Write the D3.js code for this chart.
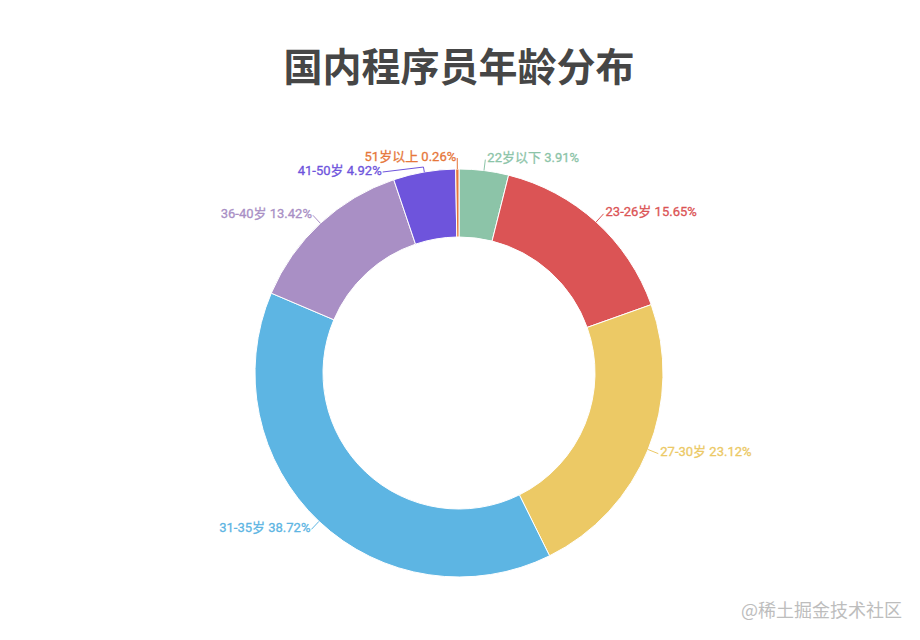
<!DOCTYPE html>
<html>
<head>
<meta charset="utf-8">
<script src="https://cdn.jsdelivr.net/npm/d3@7"></script>
<style>
  html, body { margin: 0; padding: 0; background: #fff; }
  svg text { font-family: Roboto, "Noto Sans CJK SC", "Noto Sans", sans-serif; }
</style>
</head>
<body>
<div id="chart-container"></div>
<script>
// age groups, clockwise from 12 o'clock
const categories = ["22岁以下", "23-26岁", "27-30岁", "31-35岁", "36-40岁", "41-50岁", "51岁以上"];
const percents = [3.91, 15.65, 23.12, 38.72, 13.42, 4.92, 0.26];
const colors = ["#8cc4a8", "#db5455", "#ecc965", "#5db5e3", "#a98fc5", "#6e54dc", "#e6773a"];

const width = 920;
const height = 640;
const cx = 459, cy = 373;
const outerR = 204, innerR = 136;
const lineR = 215;   // where label lines end
const minGap = 14;   // min vertical gap between labels on one side

const data = categories.map((name, i) => ({ name, value: percents[i], color: colors[i] }));

const svg = d3.select("#chart-container")
    .append("svg")
        .attr("width", width)
        .attr("height", height);

// title
svg.append("text")
    .attr("x", cx)
    .attr("y", 81)
    .attr("text-anchor", "middle")
    .attr("font-size", 39)
    .attr("font-weight", "bold")
    .attr("fill", "#464646")
    .style("font-family", "'Noto Sans CJK SC', sans-serif")
    .text("国内程序员年龄分布");

const pie = d3.pie()
    .sort(null)
    .value(d => d.value)
    .startAngle(0)
    .endAngle(2 * Math.PI);

const arcs = pie(data);

const arc = d3.arc()
    .innerRadius(innerR)
    .outerRadius(outerR);

const g = svg.append("g")
    .attr("transform", `translate(${cx},${cy})`);

g.selectAll("path.slice")
    .data(arcs)
    .enter()
    .append("path")
        .attr("class", "slice")
        .attr("d", arc)
        .attr("fill", d => d.data.color)
        .attr("stroke", "#fff")
        .attr("stroke-width", 1);

// label anchors: along the mid angle, then pushed apart per side
const labels = arcs.map(d => {
    const a = (d.startAngle + d.endAngle) / 2;
    return {
        d,
        a,
        p1: [outerR * Math.sin(a), -outerR * Math.cos(a)],
        p2: [lineR * Math.sin(a), -lineR * Math.cos(a)],
        x: lineR * Math.sin(a),
        y: -lineR * Math.cos(a),
        left: Math.sin(a) < 0
    };
});

[true, false].forEach(side => {
    const group = labels.filter(l => l.left === side).sort((a, b) => a.y - b.y);
    for (let i = 1; i < group.length; i++) {
        if (group[i].y - group[i - 1].y < minGap) {
            group[i].y = group[i - 1].y + minGap;
            const dx = Math.sqrt(Math.max(0, lineR * lineR - group[i].y * group[i].y));
            group[i].x = side ? -dx : dx;
            // shorter first segment for a pushed label
            const a = group[i].a;
            group[i].p2 = [(outerR + 5) * Math.sin(a), -(outerR + 5) * Math.cos(a)];
        }
    }
});

const line = d3.line();

g.selectAll("path.label-line")
    .data(labels)
    .enter()
    .append("path")
        .attr("class", "label-line")
        .attr("d", l => line([l.p1, l.p2, [l.x, l.y]]))
        .attr("fill", "none")
        .attr("stroke", l => l.d.data.color)
        .attr("stroke-width", 1);

g.selectAll("text.label")
    .data(labels)
    .enter()
    .append("text")
        .attr("class", "label")
        .attr("x", l => l.left ? l.x - 1 : l.x + 2)
        .attr("y", l => l.y - 2)
        .attr("dy", "0.35em")
        .attr("text-anchor", l => l.left ? "end" : "start")
        .attr("font-size", 13)
        .attr("fill", l => l.d.data.color)
        .attr("stroke", l => l.d.data.color)
        .attr("stroke-width", 0.3)
        .text(l => `${l.d.data.name} ${l.d.data.value.toFixed(2)}%`);

// watermark
svg.append("text")
    .attr("x", 902)
    .attr("y", 617)
    .attr("text-anchor", "end")
    .attr("font-size", 18)
    .attr("fill", "#bdbdbd")
    .style("font-family", "'Noto Sans CJK SC', sans-serif")
    .text("@稀土掘金技术社区");
</script>
</body>
</html>
